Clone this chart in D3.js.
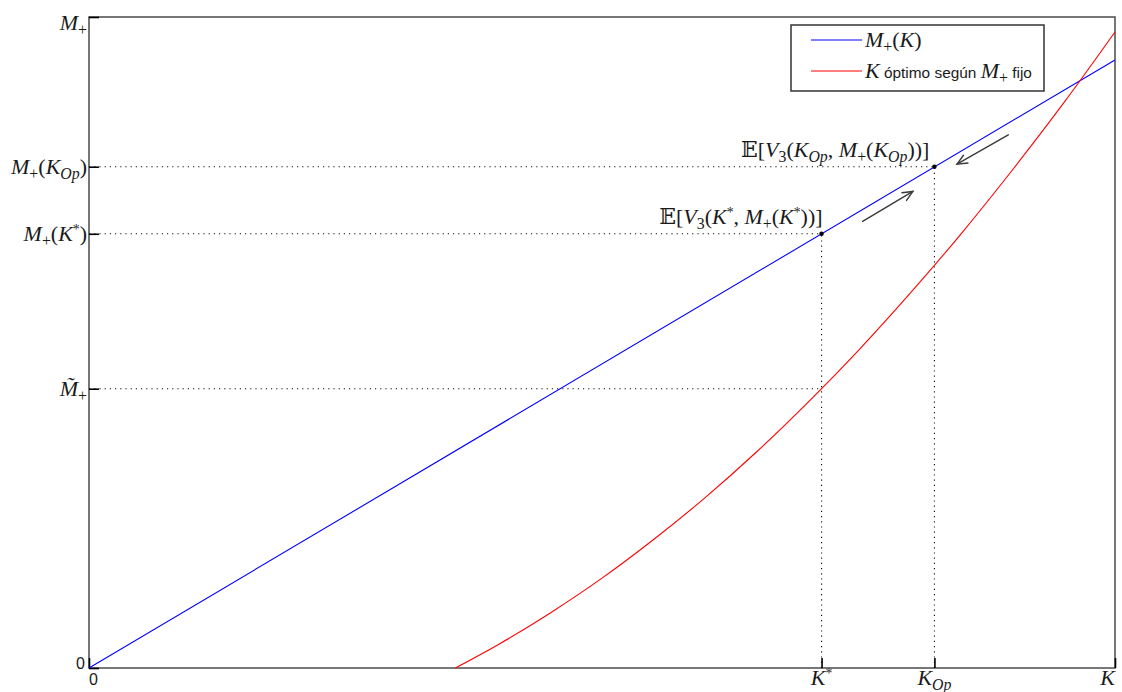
<!DOCTYPE html>
<html>
<head>
<meta charset="utf-8">
<script src="https://cdn.jsdelivr.net/npm/d3@7"></script>
<style>
  html, body { margin: 0; padding: 0; background: #fff; }
  svg { display: block; }
</style>
</head>
<body>
<svg id="chart" width="1122" height="692"></svg>
<script>
// ---- Data (K and M+ expressed as fractions of their maxima) ----
const kTicks = [0, 0.714, 0.824, 1];
const kTickLabels = ["0", "K^{*}", "K_{Op}", "K"];
const mTicks = [0, 0.429, 0.667, 0.770, 1];
const mTickLabels = ["0", "M\u0303_{+}", "M_{+}(K^{*})", "M_{+}(K_{Op})", "M_{+}"];

// M+(K): straight line through the origin
const blueK = [0, 1];
const blueM = [0, 0.934];

// Optimal K for a fixed M+
const redK = [0.357, 0.40, 0.45, 0.50, 0.55, 0.60, 0.65, 0.70, 0.75, 0.80, 0.85, 0.90, 0.95, 1.0];
const redM = [0.000, 0.037, 0.085, 0.138, 0.197, 0.261, 0.331, 0.407, 0.488, 0.575, 0.667, 0.765, 0.868, 0.977];

// Marked points on M+(K)
const pointK = [0.714, 0.824];
const pointM = [0.667, 0.770];
const pointLabels = ["\uD835\uDD3C[V_{3}(K^{*}, M_{+}(K^{*}))]", "\uD835\uDD3C[V_{3}(K_{Op}, M_{+}(K_{Op}))]"];

// Dotted guides: [k, m] end points (horizontal from the M axis, vertical from the K axis)
const guideH = [[0.714, 0.429], [0.714, 0.667], [0.824, 0.770]];
const guideV = [[0.714, 0.667], [0.824, 0.770]];

// Direction arrows along M+(K): [k0, m0, k1, m1]
const arrows = [[0.754, 0.686, 0.803, 0.732], [0.896, 0.819, 0.846, 0.774]];

const legendLabels = [["M_{+}(K)"], ["K", {sans: " óptimo según "}, "M_{+}", {sans: " fijo"}]];
const legendColors = ["#0000ff", "#ff0000"];

// ---- Layout ----
const svg = d3.select("#chart");
const L = 89, R = 1115, T = 17, B = 668;
const x = d3.scaleLinear().domain([0, 1]).range([L, R]);
const y = d3.scaleLinear().domain([0, 1]).range([B, T]);

const SERIF = "'Liberation Serif', 'DejaVu Serif', serif";
const SANS = "'Liberation Sans', Arial, sans-serif";
const MATH_SIZE = 22;
const ZERO_SIZE = 16;
const TEXT_COLOR = "#1a1a1a";

// Parse a tiny TeX-like string: letters italic, _{..} subscript, ^{..} superscript
function parseMath(str) {
  const out = [];
  let i = 0;
  function pushChar(ch, shift) {
    const it = /[A-Za-z]/.test(ch);
    const last = out[out.length - 1];
    if (last && !last.sans && last.it === it && last.shift === shift) last.t += ch;
    else out.push({t: ch, it, shift});
  }
  while (i < str.length) {
    const c = str[i];
    if ((c === "_" || c === "^") && str[i + 1] === "{") {
      const end = str.indexOf("}", i);
      const inner = str.slice(i + 2, end);
      for (const ch of inner) pushChar(ch, c === "_" ? "sub" : "sup");
      i = end + 1;
    } else if (/[\u0300-\u036f]/.test(c)) {
      out[out.length - 1].t += c;
      i++;
    } else {
      const cp = str.codePointAt(i);
      const ch = String.fromCodePoint(cp);
      pushChar(ch, "none");
      i += ch.length;
    }
  }
  return out;
}

function richText(g, parts, px, py, anchor, size) {
  size = size || MATH_SIZE;
  const segs = [];
  for (const p of parts) {
    if (typeof p === "string") segs.push(...parseMath(p));
    else segs.push({t: p.sans, sans: true, shift: "none"});
  }
  const text = g.append("text")
    .attr("x", px).attr("y", py)
    .attr("text-anchor", anchor)
    .attr("fill", TEXT_COLOR)
    .attr("font-family", SERIF)
    .attr("font-size", size)
    .attr("xml:space", "preserve");
  let cur = 0;
  for (const s of segs) {
    const target = s.shift === "sub" ? size * 0.22 : s.shift === "sup" ? -size * 0.32 : 0;
    const ts = text.append("tspan").text(s.t).attr("dy", target - cur);
    cur = target;
    if (s.sans) ts.attr("font-family", SANS).attr("font-size", size * 0.7).attr("font-style", "normal");
    else {
      if (s.it) ts.attr("font-style", "italic");
      if (s.shift === "sub") ts.attr("font-size", size * 0.72);
      if (s.shift === "sup") ts.attr("font-size", size * 0.62);
    }
  }
  return text;
}

// ---- Frame ----
svg.append("rect")
  .attr("x", L).attr("y", T).attr("width", R - L).attr("height", B - T)
  .attr("fill", "#fff").attr("stroke", "#555").attr("stroke-width", 1.6);

// ---- Dotted guides ----
const guides = svg.append("g")
  .attr("stroke", "#111").attr("stroke-width", 1.1).attr("stroke-dasharray", "1.2,4");
guides.selectAll("line.h").data(guideH).join("line").attr("class", "h")
  .attr("x1", x(0)).attr("x2", d => x(d[0]))
  .attr("y1", d => y(d[1])).attr("y2", d => y(d[1]));
guides.selectAll("line.v").data(guideV).join("line").attr("class", "v")
  .attr("x1", d => x(d[0])).attr("x2", d => x(d[0]))
  .attr("y1", y(0)).attr("y2", d => y(d[1]));

// ---- Axes: inward ticks, custom math labels ----
const xAxis = d3.axisBottom(x).tickValues(kTicks).tickSizeInner(-10).tickSizeOuter(0).tickFormat("");
const yAxis = d3.axisLeft(y).tickValues(mTicks).tickSizeInner(-10).tickSizeOuter(0).tickFormat("");
const gx = svg.append("g").attr("transform", `translate(0,${B})`).call(xAxis);
const gy = svg.append("g").attr("transform", `translate(${L},0)`).call(yAxis);
[gx, gy].forEach(g => {
  g.select(".domain").remove();
  g.selectAll(".tick line").attr("stroke", "#000").attr("stroke-width", 1.6);
});

const labels = svg.append("g");
kTicks.forEach((k, i) => {
  const lab = kTickLabels[i];
  const px = x(k);
  if (lab === "0") {
    labels.append("text").attr("x", px).attr("y", 685).attr("font-family", SANS)
      .attr("font-size", ZERO_SIZE).attr("fill", TEXT_COLOR).text(lab);
  } else {
    const anchor = i === kTicks.length - 1 ? "end" : "middle";
    richText(labels, [lab], px, 685, anchor);
  }
});
mTicks.forEach((m, i) => {
  const lab = mTickLabels[i];
  const base = Math.max(T + 13, Math.min(B + 1, y(m) + 7));
  if (lab === "0") {
    labels.append("text").attr("x", L - 4).attr("y", base).attr("text-anchor", "end")
      .attr("font-family", SANS).attr("font-size", ZERO_SIZE).attr("fill", TEXT_COLOR).text(lab);
  } else {
    richText(labels, [lab], L - 2, base, "end");
  }
});

// ---- Curves ----
const line = d3.line().x(d => x(d[0])).y(d => y(d[1]));
svg.append("path")
  .datum(blueK.map((k, i) => [k, blueM[i]]))
  .attr("d", line).attr("fill", "none").attr("stroke", "#0000ff").attr("stroke-width", 1.1);
svg.append("path")
  .datum(redK.map((k, i) => [k, redM[i]]))
  .attr("d", line.curve(d3.curveMonotoneX)).attr("fill", "none")
  .attr("stroke", "#ff0000").attr("stroke-width", 1.1);

// ---- Points and their labels ----
svg.selectAll("circle.pt").data(pointK).join("circle").attr("class", "pt")
  .attr("cx", d => x(d)).attr("cy", (d, i) => y(pointM[i])).attr("r", 2.2).attr("fill", "#000");
pointK.forEach((k, i) => {
  richText(svg, [pointLabels[i]], x(k) + (i === 0 ? 1 : -5), y(pointM[i]) - 10, "end");
});

// ---- Arrows ----
const arrowG = svg.append("g").attr("stroke", "#3a3a3a").attr("stroke-width", 1.4)
  .attr("fill", "none").attr("stroke-linecap", "round");
arrows.forEach(a => {
  const x0 = x(a[0]), y0 = y(a[1]), x1 = x(a[2]), y1 = y(a[3]);
  const ang = Math.atan2(y1 - y0, x1 - x0);
  const hl = 11, spread = 0.42;
  arrowG.append("line").attr("x1", x0).attr("y1", y0).attr("x2", x1).attr("y2", y1);
  arrowG.append("path").attr("d",
    `M${x1 - hl * Math.cos(ang - spread)},${y1 - hl * Math.sin(ang - spread)}` +
    `L${x1},${y1}` +
    `L${x1 - hl * Math.cos(ang + spread)},${y1 - hl * Math.sin(ang + spread)}`);
});

// ---- Legend ----
const leg = svg.append("g");
leg.append("rect").attr("x", 791).attr("y", 25).attr("width", 253).attr("height", 66)
  .attr("fill", "#fff").attr("stroke", "#333").attr("stroke-width", 1.5);
legendLabels.forEach((parts, i) => {
  const ly = 40 + i * 31;
  leg.append("line").attr("x1", 811).attr("x2", 862).attr("y1", ly).attr("y2", ly)
    .attr("stroke", legendColors[i]).attr("stroke-width", 1.1);
  richText(leg, parts, 865, ly + 7, "start");
});
</script>
</body>
</html>
